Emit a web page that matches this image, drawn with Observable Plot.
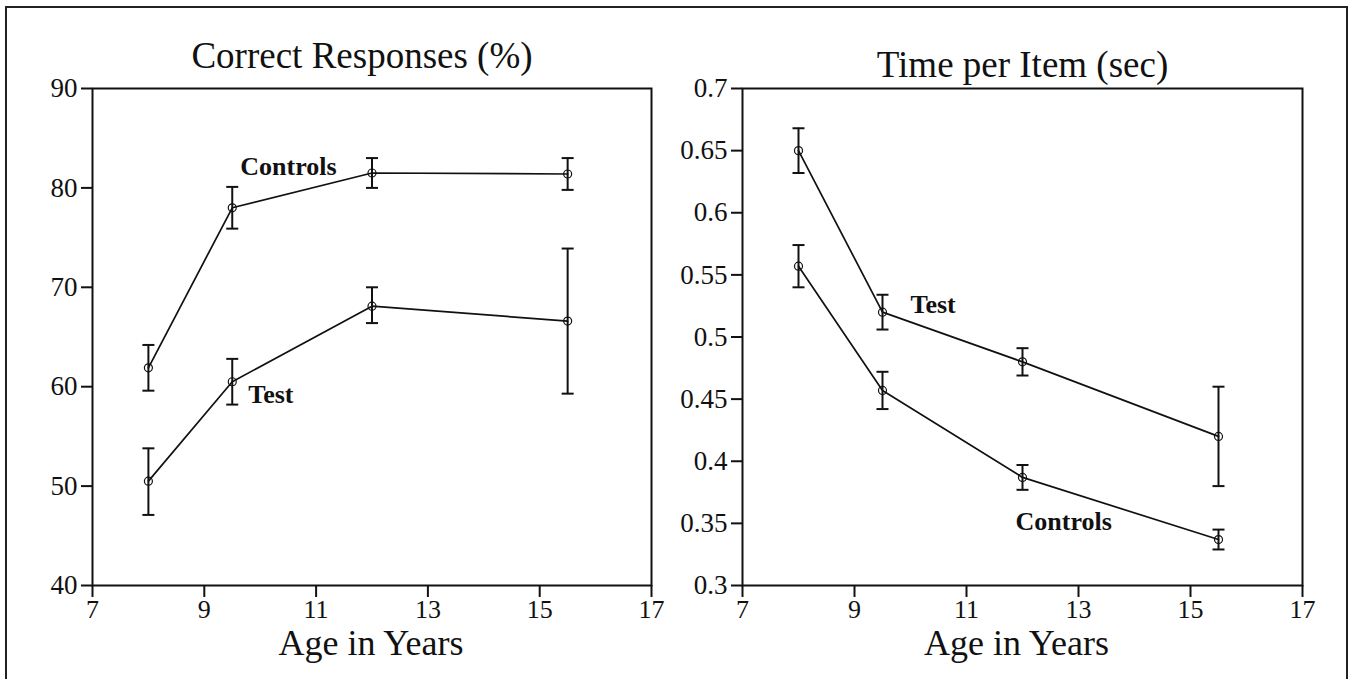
<!DOCTYPE html>
<html>
<head>
<meta charset="utf-8">
<script src="https://cdn.jsdelivr.net/npm/d3@7"></script>
<script src="https://cdn.jsdelivr.net/npm/@observablehq/plot@0.6"></script>
<style>
  html, body { margin: 0; padding: 0; background: #fff; overflow: hidden; }
  #wrap { position: relative; width: 1348px; height: 679px; overflow: hidden; background: #fff; }
  #border { position: absolute; left: 5px; top: 6px; width: 1343px; height: 720px; border: 2px solid #222; box-sizing: border-box; }
  .panel { position: absolute; top: 0; }
  #left { left: 0; }
  #right { left: 660px; }
</style>
</head>
<body>
<div id="wrap">
  <div id="border"></div>
  <div id="left" class="panel"></div>
  <div id="right" class="panel"></div>
</div>
<script>
// ---- Data ----
const ages = [8, 9.5, 12, 15.5];
const xTicks = [7, 9, 11, 13, 15, 17];

// Correct Responses (%)
const correctTicks = [40, 50, 60, 70, 80, 90];
const correctControls = [61.9, 78.0, 81.5, 81.4];
const correctControlsLo = [59.6, 75.9, 80.0, 79.8];
const correctControlsHi = [64.2, 80.1, 83.0, 83.0];
const correctTest = [50.5, 60.5, 68.1, 66.6];
const correctTestLo = [47.1, 58.2, 66.4, 59.3];
const correctTestHi = [53.8, 62.8, 70.0, 73.9];

// Time per Item (sec)
const timeTicks = [0.3, 0.35, 0.4, 0.45, 0.5, 0.55, 0.6, 0.65, 0.7];
const timeTest = [0.650, 0.520, 0.480, 0.420];
const timeTestLo = [0.632, 0.506, 0.469, 0.380];
const timeTestHi = [0.668, 0.534, 0.491, 0.460];
const timeControls = [0.557, 0.457, 0.387, 0.337];
const timeControlsLo = [0.540, 0.442, 0.377, 0.329];
const timeControlsHi = [0.574, 0.472, 0.397, 0.345];

const titles = ["Correct Responses (%)", "Time per Item (sec)"];
const xLabel = "Age in Years";
const seriesNames = ["Controls", "Test"];

// ---- Build tables ----
function rows(vals, lo, hi) {
  return ages.map((a, i) => ({age: a, v: vals[i], lo: lo[i], hi: hi[i]}));
}
const capSymbol = {
  draw(ctx, size) {
    const w = Math.sqrt(size / Math.PI);
    ctx.moveTo(-w, 0);
    ctx.lineTo(w, 0);
  }
};
const FONT = "'Liberation Serif', 'Times New Roman', serif";

function seriesMarks(data) {
  return [
    Plot.line(data, {x: "age", y: "v", stroke: "#111", strokeWidth: 1.7}),
    Plot.ruleX(data, {x: "age", y1: "lo", y2: "hi", stroke: "#111", strokeWidth: 2}),
    Plot.dot(data, {x: "age", y: "hi", symbol: capSymbol, r: 6, stroke: "#111", strokeWidth: 2, fill: "none"}),
    Plot.dot(data, {x: "age", y: "lo", symbol: capSymbol, r: 6, stroke: "#111", strokeWidth: 2, fill: "none"}),
    Plot.dot(data, {x: "age", y: "v", r: 4, stroke: "#111", strokeWidth: 1.2, fill: "none"})
  ];
}

function panel({width, marginLeft, marginRight, yDomain, yTicks, yFormat, title, titleDx, titleDy, labelDx, series, labels}) {
  return Plot.plot({
    width, height: 679,
    marginLeft, marginRight, marginTop: 88, marginBottom: 94,
    x: {domain: [7, 17]},
    y: {domain: yDomain},
    style: {fontFamily: FONT, fontSize: "26px", color: "#111", background: "transparent", overflow: "visible"},
    marks: [
      Plot.axisX({ticks: xTicks, tickSize: 12, tickPadding: 2, strokeWidth: 2, label: null, fontSize: 26}),
      Plot.axisY({ticks: yTicks, tickSize: 11, tickPadding: 4, strokeWidth: 2, label: null, fontSize: 27, tickFormat: yFormat}),
      Plot.frame({stroke: "#111", strokeWidth: 2}),
      ...series.flatMap(seriesMarks),
      ...labels.map(l => Plot.text([l.row], {x: "age", y: "v", text: () => l.text, dx: l.dx, dy: l.dy, textAnchor: "start", lineAnchor: "bottom", fontSize: 26, fontWeight: "bold", fill: "#111"})),
      Plot.text([title], {frameAnchor: "top", lineAnchor: "bottom", dx: titleDx, dy: titleDy, fontSize: 37, fill: "#111"}),
      Plot.text([xLabel], {frameAnchor: "bottom", lineAnchor: "bottom", dx: labelDx, dy: 69, fontSize: 36, fill: "#111"})
    ]
  });
}

const cC = rows(correctControls, correctControlsLo, correctControlsHi);
const cT = rows(correctTest, correctTestLo, correctTestHi);
const tT = rows(timeTest, timeTestLo, timeTestHi);
const tC = rows(timeControls, timeControlsLo, timeControlsHi);

const fmt = d => String(+d.toFixed(2));

document.getElementById("left").append(panel({
  width: 700, marginLeft: 92, marginRight: 49,
  yDomain: [40, 90], yTicks: correctTicks, yFormat: fmt,
  title: titles[0], titleDx: -10, titleDy: -21, labelDx: -1,
  series: [cC, cT],
  labels: [
    {row: cC[1], text: seriesNames[0], dx: 8, dy: -33},
    {row: cT[1], text: seriesNames[1], dx: 16, dy: 21}
  ]
}));

document.getElementById("right").append(panel({
  width: 688, marginLeft: 82, marginRight: 46,
  yDomain: [0.3, 0.7], yTicks: timeTicks, yFormat: fmt,
  title: titles[1], titleDx: 0, titleDy: -12, labelDx: -6,
  series: [tT, tC],
  labels: [
    {row: tT[1], text: seriesNames[1], dx: 28, dy: 1},
    {row: tC[2], text: seriesNames[0], dx: -7, dy: 53}
  ]
}));
</script>
</body>
</html>
